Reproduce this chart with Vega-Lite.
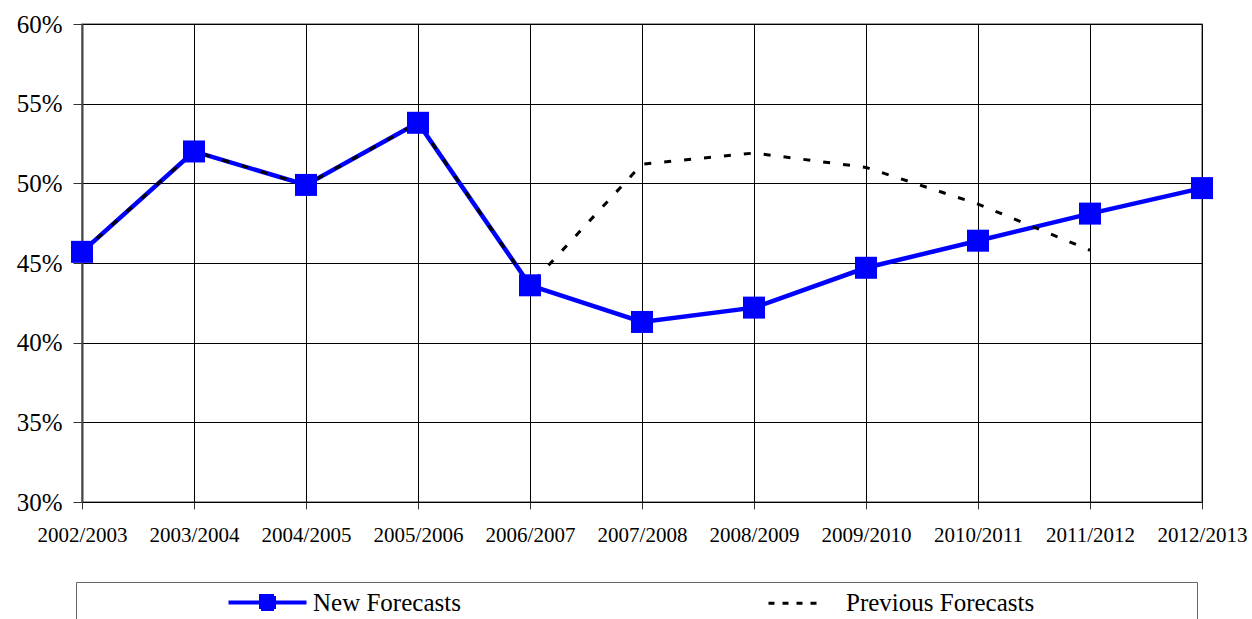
{
  "$schema": "https://vega.github.io/schema/vega-lite/v6.json",
  "width": 1120,
  "height": 478,
  "autosize": {"type": "none"},
  "padding": {"left": 82, "top": 24, "right": 50, "bottom": 117},
  "background": "white",
  "config": {
    "font": "Liberation Serif",
    "view": {"stroke": "#808080", "strokeWidth": 1.5},
    "axis": {
      "gridColor": "black",
      "gridWidth": 1,
      "gridOpacity": 1,
      "tickColor": "#333333",
      "domainColor": "#555555",
      "labelColor": "black",
      "labelFont": "Liberation Serif"
    },
    "legend": {"labelFont": "Liberation Serif"}
  },
  "data": {
    "values": [
      {"year": "2002/2003", "series": "New Forecasts", "value": 0.457},
      {"year": "2003/2004", "series": "New Forecasts", "value": 0.520},
      {"year": "2004/2005", "series": "New Forecasts", "value": 0.499},
      {"year": "2005/2006", "series": "New Forecasts", "value": 0.538},
      {"year": "2006/2007", "series": "New Forecasts", "value": 0.436},
      {"year": "2007/2008", "series": "New Forecasts", "value": 0.413},
      {"year": "2008/2009", "series": "New Forecasts", "value": 0.422},
      {"year": "2009/2010", "series": "New Forecasts", "value": 0.447},
      {"year": "2010/2011", "series": "New Forecasts", "value": 0.464},
      {"year": "2011/2012", "series": "New Forecasts", "value": 0.481},
      {"year": "2012/2013", "series": "New Forecasts", "value": 0.497},
      {"year": "2002/2003", "series": "Previous Forecasts", "value": 0.457},
      {"year": "2003/2004", "series": "Previous Forecasts", "value": 0.520},
      {"year": "2004/2005", "series": "Previous Forecasts", "value": 0.499},
      {"year": "2005/2006", "series": "Previous Forecasts", "value": 0.538},
      {"year": "2006/2007", "series": "Previous Forecasts", "value": 0.436},
      {"year": "2007/2008", "series": "Previous Forecasts", "value": 0.512},
      {"year": "2008/2009", "series": "Previous Forecasts", "value": 0.519},
      {"year": "2009/2010", "series": "Previous Forecasts", "value": 0.510},
      {"year": "2010/2011", "series": "Previous Forecasts", "value": 0.487},
      {"year": "2011/2012", "series": "Previous Forecasts", "value": 0.458}
    ]
  },
  "encoding": {
    "x": {
      "field": "year",
      "type": "ordinal",
      "scale": {"type": "point", "padding": 0},
      "axis": {
        "title": null,
        "labelAngle": 0,
        "labelFontSize": 21,
        "tickSize": 7,
        "labelPadding": 15,
        "grid": true,
        "domain": false
      }
    },
    "y": {
      "field": "value",
      "type": "quantitative",
      "scale": {"domain": [0.3, 0.6], "nice": false, "zero": false},
      "axis": {
        "title": null,
        "format": ".0%",
        "values": [0.3, 0.35, 0.4, 0.45, 0.5, 0.55, 0.6],
        "labelFontSize": 25,
        "tickSize": 9,
        "labelPadding": 11,
        "domainWidth": 2,
        "domainColor": "#444444"
      }
    }
  },
  "layer": [
    {
      "transform": [{"filter": "datum.series == 'New Forecasts'"}],
      "mark": {"type": "line", "color": "#0000FF", "strokeWidth": 4.5},
      "encoding": {
        "color": {
          "field": "series",
          "type": "nominal",
          "scale": {"domain": ["New Forecasts", "Previous Forecasts"], "range": ["#0000FF", "black"]},
          "legend": {
            "title": null,
            "orient": "none",
            "legendX": -6,
            "legendY": 558,
            "direction": "horizontal",
            "strokeColor": "#666666",
            "fillColor": "white",
            "padding": 8,
            "labelFontSize": 25,
            "labelColor": "black",
            "labelLimit": 2000,
            "symbolType": "M-3.9,0H3.9M-0.65,-0.65H0.65V0.65H-0.65Z",
            "symbolSize": 400,
            "symbolStrokeWidth": 4,
            "symbolOffset": 171,
            "labelOffset": 33,
            "columnPadding": 156,
            "encode": {
              "symbols": {
                "update": {
                  "shape": {"signal": "datum.value == 'New Forecasts' ? 'M-3.9,0H3.9M-0.65,-0.65H0.65V0.65H-0.65Z' : 'M-3.2,0H1.6M0,-0.65M0,0.65M38.2,0'"},
                  "fill": {"signal": "datum.value == 'New Forecasts' ? '#0000FF' : 'transparent'"},
                  "stroke": {"signal": "datum.value == 'New Forecasts' ? '#0000FF' : 'black'"},
                  "strokeDash": {"signal": "datum.value == 'New Forecasts' ? [1, 0] : [6, 8]"},
                  "strokeWidth": {"signal": "datum.value == 'New Forecasts' ? 4 : 3"},
                  "opacity": {"value": 1}
                }
              }
            }
          }
        }
      }
    },
    {
      "transform": [{"filter": "datum.series == 'Previous Forecasts'"}],
      "mark": {"type": "line", "color": "black", "strokeWidth": 3, "strokeDash": [7, 13]},
      "encoding": {}
    },
    {
      "transform": [{"filter": "datum.series == 'New Forecasts'"}],
      "mark": {"type": "point", "shape": "square", "filled": true, "color": "#0000FF", "size": 484, "opacity": 1},
      "encoding": {}
    }
  ]
}
